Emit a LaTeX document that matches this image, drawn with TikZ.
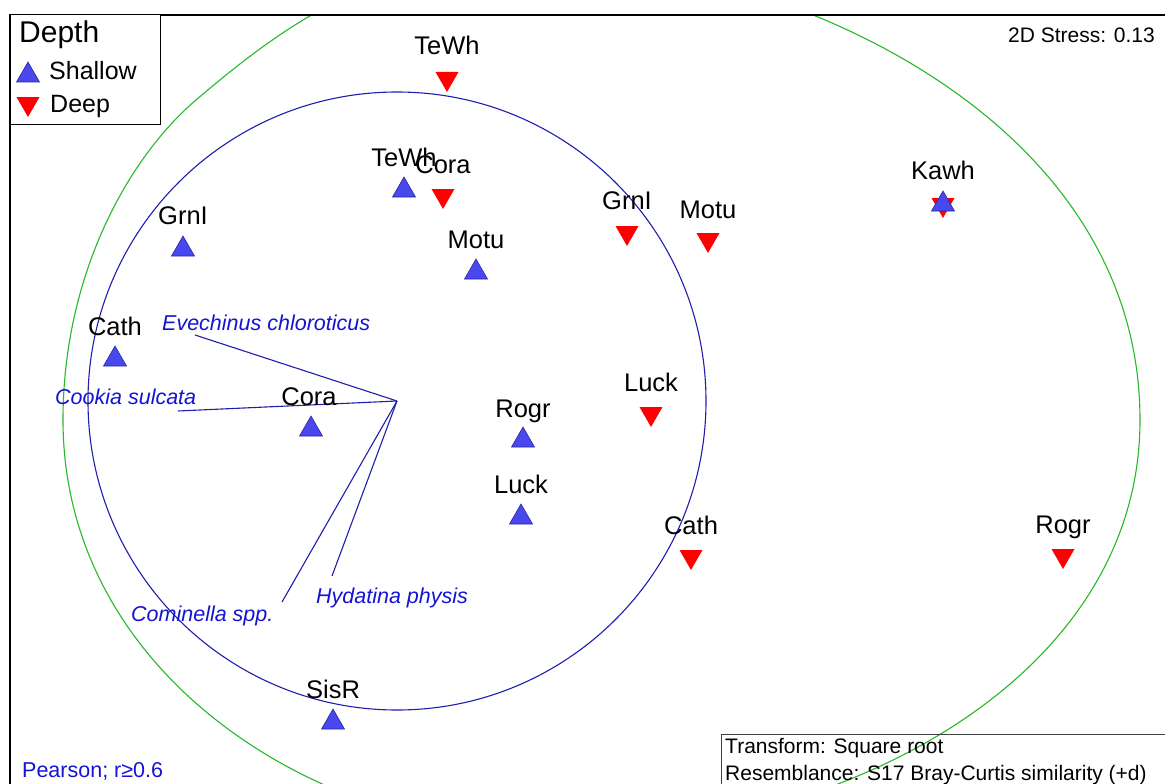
\documentclass[tikz,border=0pt]{standalone}
\usepackage{fontspec}
\setmainfont{Liberation Sans}
\definecolor{shfill}{RGB}{72,72,238}
\definecolor{shedge}{RGB}{40,40,160}
\definecolor{vecblue}{RGB}{30,30,175}
\definecolor{txtblue}{RGB}{20,20,210}
\definecolor{cgreen}{RGB}{40,185,40}
\begin{document}
\begin{tikzpicture}[x=1pt,y=-1pt,
  lab/.style={anchor=base, inner sep=0pt, font=\fontsize{25.5}{30}\selectfont},
  sp/.style={anchor=base west, inner sep=0pt, text=txtblue, font=\fontsize{21.5}{26}\selectfont\itshape},
  info/.style={anchor=base west, inner sep=0pt, font=\fontsize{21}{25}\selectfont},
  vec/.style={draw=vecblue, line width=1.1pt},
  shal/.pic={\filldraw[fill=shfill,draw=shedge,line width=0.6pt] (0,-10) -- (11.5,10) -- (-11.5,10) -- cycle;},
  deep/.pic={\fill[red] (-11.5,-10) -- (11.5,-10) -- (0,10) -- cycle;}
]
\useasboundingbox (0,0) rectangle (1165,784);
\fill[white] (0,0) rectangle (1165,784);

% green contour
\begin{scope}
\clip (10,15) rectangle (1165,784);
\coordinate (g1) at (63,420);
\coordinate (g2) at (196,100);
\coordinate (g3) at (520,-45);
\coordinate (g4) at (1140,420);
\coordinate (g5) at (560,835);
\draw[cgreen, line width=1.1pt]
  (g1) .. controls (63,275) and (128,158) .. (g2)
       .. controls (262,44) and (370,-45) .. (g3)
       .. controls (770,-45) and (1140,110) .. (g4)
       .. controls (1140,680) and (840,835) .. (g5)
       .. controls (310,835) and (63,670) .. (g1) -- cycle;
\end{scope}

% blue circle
\coordinate (o) at (397,401);
\draw[vecblue, line width=1.1pt] (o) circle[radius=309];

% vectors
\coordinate (eve) at (195,335);
\coordinate (coo) at (178,411);
\coordinate (com) at (282,602);
\coordinate (hyd) at (332,576);
\draw[vec] (o) -- (eve);
\draw[vec] (o) -- (coo);
\draw[vec] (o) -- (com);
\draw[vec] (o) -- (hyd);
\node[sp] (leve) at (162,330) {Evechinus chloroticus};
\node[sp] (lcoo) at (55,404) {Cookia sulcata};
\node[sp] (lcom) at (131,621) {Cominella spp.};
\node[sp] (lhyd) at (316,603) {Hydatina physis};

% deep samples
\pic at (447,82) {deep};   \node[lab] (dtewh) at (447,55) {TeWh};
\pic at (443,199) {deep};  \node[lab] (dcora) at (443,173) {Cora};
\pic at (627,236) {deep};  \node[lab] (dgrni) at (627,209) {GrnI};
\pic at (708,243) {deep};  \node[lab] (dmotu) at (708,218) {Motu};
\pic at (943,208) {deep};
\pic at (651,417) {deep};  \node[lab] (dluck) at (651,391) {Luck};
\pic at (691,560) {deep};  \node[lab] (dcath) at (691,534) {Cath};
\pic at (1063,559) {deep}; \node[lab] (drogr) at (1063,533) {Rogr};

% shallow samples
\pic at (404,187) {shal};  \node[lab] (stewh) at (404,166) {TeWh};
\pic at (183,246) {shal};  \node[lab] (sgrni) at (183,224) {GrnI};
\pic at (476,269) {shal};  \node[lab] (smotu) at (476,248) {Motu};
\pic at (943,201) {shal};  \node[lab] (kawh) at (943,179) {Kawh};
\pic at (115,356) {shal};  \node[lab] (scath) at (115,335) {Cath};
\pic at (311,426) {shal};  \node[lab] (scora) at (309,405) {Cora};
\pic at (523,437) {shal};  \node[lab] (srogr) at (523,417) {Rogr};
\pic at (521,514) {shal};  \node[lab] (sluck) at (521,493) {Luck};
\pic at (333,719) {shal};  \node[lab] (ssisr) at (333,698) {SisR};

% frame
\draw[line width=1.2pt] (10,784) -- (10,15) -- (1165,15);

% legend
\draw[line width=1pt, fill=white] (10,15) rectangle (160,124);
\node[anchor=base west, inner sep=0pt, font=\fontsize{30}{34}\selectfont] (ldepth) at (19,43) {Depth};
\pic at (28,72) {shal};
\node[anchor=base west, inner sep=0pt, font=\fontsize{25}{30}\selectfont] (lshal) at (49,80) {Shallow};
\pic at (28,107) {deep};
\node[anchor=base west, inner sep=0pt, font=\fontsize{25}{30}\selectfont] (ldeep) at (50,113) {Deep};

% stress
\node[anchor=base east, inner sep=0pt, font=\fontsize{21}{25}\selectfont] (stress) at (1155,43) {2D Stress: 0.13};

% info box
\draw[line width=1pt, draw=black!75] (721,784) -- (721,734) -- (1165,734);
\node[info] (trans) at (725,753) {Transform: Square root};
\node[info] (resem) at (725,780) {Resemblance: S17 Bray-Curtis similarity (+d)};

% pearson
\node[anchor=base west, inner sep=0pt, text=txtblue, font=\fontsize{21.5}{26}\selectfont] (pear) at (22,777) {Pearson; r≥0.6};
\end{tikzpicture}
\end{document}
